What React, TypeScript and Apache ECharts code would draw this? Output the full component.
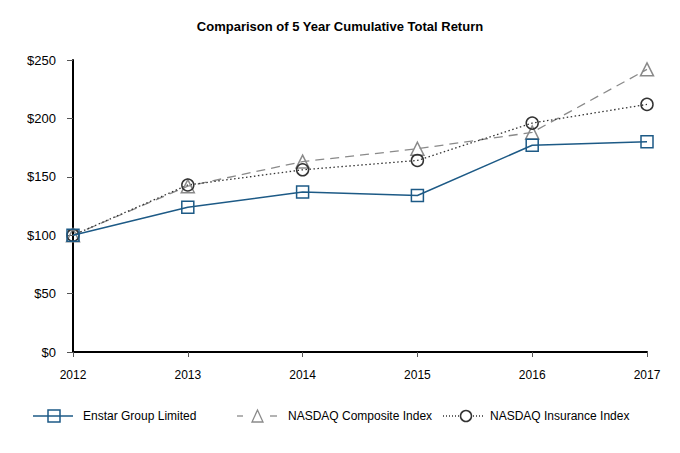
import React, { useEffect, useRef } from "react";
import * as echarts from "echarts";

const years = ["2012", "2013", "2014", "2015", "2016", "2017"];
const enstar = [100, 124, 137, 134, 177, 180];
const composite = [100, 142, 163, 174, 188, 242];
const insurance = [100, 143, 156, 164, 196, 212];
const seriesNames = ["Enstar Group Limited", "NASDAQ Composite Index", "NASDAQ Insurance Index"];

const FONT = "Liberation Sans, Arial, sans-serif";
const BLUE = "#1d5a86";
const GRAY = "#8a8a8a";
const DARK = "#333333";

export default function App() {
  const ref = useRef<HTMLDivElement>(null);
  useEffect(() => {
    const chart = echarts.init(ref.current!, null, { renderer: "svg" });
    const ly = 416;
    const legendText = (x: number, text: string) => ({
      type: "text",
      x,
      y: ly,
      style: { text, fontFamily: FONT, fontSize: 12, fill: "#000", verticalAlign: "middle" },
    });
    const seg = (x1: number, x2: number, stroke: string, dash?: number[]) => ({
      type: "line",
      shape: { x1, y1: ly, x2, y2: ly },
      style: { stroke, lineWidth: 1.3, lineDash: dash },
    });
    chart.setOption({
      animation: false,
      backgroundColor: "#fff",
      title: {
        text: "Comparison of 5 Year Cumulative Total Return",
        left: "center",
        top: 15,
        textStyle: { fontFamily: FONT, fontSize: 13, fontWeight: "bold", color: "#000" },
      },
      grid: { left: 73, right: 33, top: 60, bottom: 101 },
      xAxis: {
        type: "category",
        data: years,
        boundaryGap: false,
        axisLine: { lineStyle: { color: "#000", width: 2 } },
        axisTick: { show: true, length: 5, alignWithLabel: true, lineStyle: { color: "#555" } },
        axisLabel: { fontFamily: FONT, fontSize: 12, color: "#000", margin: 17 },
      },
      yAxis: {
        type: "value",
        min: 0,
        max: 250,
        interval: 50,
        axisLine: { show: true, lineStyle: { color: "#000", width: 2 } },
        axisTick: { show: true, length: 6, lineStyle: { color: "#555" } },
        splitLine: { show: false },
        axisLabel: {
          fontFamily: FONT,
          fontSize: 13,
          color: "#000",
          margin: 17,
          formatter: (v: number) => "$" + v,
        },
      },
      series: [
        {
          name: seriesNames[0],
          type: "line",
          data: enstar,
          symbol: "rect",
          symbolSize: 12,
          lineStyle: { color: BLUE, width: 1.5 },
          itemStyle: { color: "transparent", borderColor: BLUE, borderWidth: 1.5 },
          z: 3,
        },
        {
          name: seriesNames[1],
          type: "line",
          data: composite,
          symbol: "triangle",
          symbolSize: 13,
          lineStyle: { color: GRAY, width: 1.3, type: [9, 6] },
          itemStyle: { color: "transparent", borderColor: GRAY, borderWidth: 1.5 },
          z: 2,
        },
        {
          name: seriesNames[2],
          type: "line",
          data: insurance,
          symbol: "circle",
          symbolSize: 12,
          lineStyle: { color: DARK, width: 1.3, type: [1.5, 2.5] },
          itemStyle: { color: "transparent", borderColor: DARK, borderWidth: 1.5 },
          z: 2,
        },
      ],
      graphic: [
        seg(33, 73, BLUE),
        { type: "rect", shape: { x: 48, y: ly - 6, width: 12, height: 12 }, style: { fill: "transparent", stroke: BLUE, lineWidth: 1.5 } },
        legendText(83, seriesNames[0]),

        seg(237, 243, GRAY),
        seg(270, 277, GRAY),
        { type: "polygon", shape: { points: [[257.5, ly - 6], [252, ly + 6], [263, ly + 6]] }, style: { fill: "#fff", stroke: GRAY, lineWidth: 1.3 } },
        legendText(288, seriesNames[1]),

        seg(443, 459, DARK, [1, 2]),
        seg(473, 484, DARK, [1, 2]),
        { type: "circle", shape: { cx: 466, cy: ly, r: 5.5 }, style: { fill: "#fff", stroke: DARK, lineWidth: 1.5 } },
        legendText(490, seriesNames[2]),
      ],
    });
    return () => chart.dispose();
  }, []);
  return <div ref={ref} style={{ width: 680, height: 453, position: "absolute", left: 0, top: 0 }} />;
}
